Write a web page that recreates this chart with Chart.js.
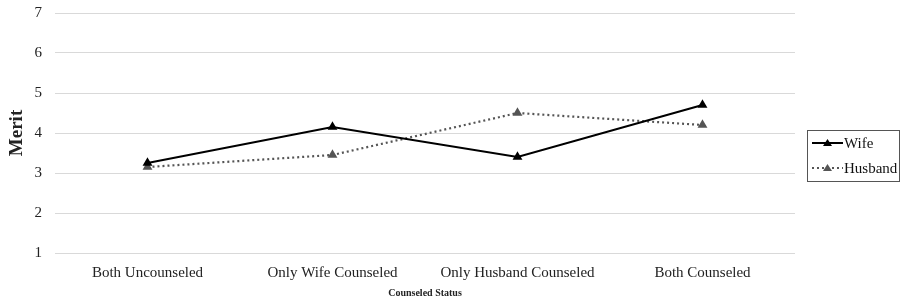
<!DOCTYPE html>
<html>
<head>
<meta charset="utf-8">
<script src="https://cdn.jsdelivr.net/npm/chart.js@4/dist/chart.umd.min.js"></script>
<style>
  html, body { margin: 0; padding: 0; background: #fff; }
  #wrap { width: 901px; height: 301px; position: relative; }
</style>
</head>
<body>
<div id="wrap"><canvas id="chart"></canvas></div>
<script>
const categories = ['Both Uncounseled', 'Only Wife Counseled', 'Only Husband Counseled', 'Both Counseled'];
const wifeValues = [3.25, 4.15, 3.4, 4.7];
const husbandValues = [3.15, 3.45, 4.5, 4.2];
const yTicks = [1, 2, 3, 4, 5, 6, 7];

const serif = "'Liberation Serif', 'Times New Roman', serif";

// legend drawn by hand: line sample with a triangle in the middle
const lineLegend = {
  id: 'lineLegend',
  afterDraw(chart) {
    const ctx = chart.ctx;
    const x0 = 807, y0 = 130, w = 92, h = 51;
    ctx.save();
    ctx.strokeStyle = '#555';
    ctx.lineWidth = 1;
    ctx.strokeRect(x0 + 0.5, y0 + 0.5, w, h);
    chart.data.datasets.forEach((ds, i) => {
      const y = y0 + 13 + i * 25;
      ctx.beginPath();
      ctx.strokeStyle = ds.borderColor;
      ctx.lineWidth = 2;
      ctx.setLineDash(ds.borderDash || []);
      ctx.moveTo(x0 + 5, y);
      ctx.lineTo(x0 + 36, y);
      ctx.stroke();
      ctx.setLineDash([]);
      ctx.beginPath();
      ctx.fillStyle = ds.pointBackgroundColor;
      ctx.moveTo(x0 + 20.5, y - 4);
      ctx.lineTo(x0 + 25, y + 3);
      ctx.lineTo(x0 + 16, y + 3);
      ctx.closePath();
      ctx.fill();
      ctx.fillStyle = '#111';
      ctx.font = '15px ' + serif;
      ctx.textBaseline = 'middle';
      ctx.fillText(ds.label, x0 + 37, y + 1);
    });
    ctx.restore();
  }
};

new Chart(document.getElementById('chart'), {
  type: 'line',
  data: {
    labels: categories,
    datasets: [
      {
        label: 'Wife',
        data: wifeValues,
        borderColor: '#000',
        backgroundColor: '#000',
        pointBackgroundColor: '#000',
        pointBorderColor: '#000',
        borderWidth: 2.2,
        pointStyle: 'triangle',
        pointRadius: 3.5,
        tension: 0
      },
      {
        label: 'Husband',
        data: husbandValues,
        borderColor: '#555',
        backgroundColor: '#555',
        pointBackgroundColor: '#555',
        pointBorderColor: '#555',
        borderWidth: 2.2,
        borderDash: [2, 3],
        pointStyle: 'triangle',
        pointRadius: 3.5,
        tension: 0
      }
    ]
  },
  options: {
    responsive: true,
    maintainAspectRatio: false,
    animation: false,
    layout: { padding: { top: 13, right: 106, left: 6, bottom: 2 } },
    plugins: {
      legend: { display: false },
      tooltip: { enabled: false }
    },
    scales: {
      x: {
        offset: true,
        grid: { display: false },
        border: { display: false },
        ticks: {
          color: '#222',
          font: { family: serif, size: 15 },
          padding: 3,
          maxRotation: 0
        },
        title: {
          display: true,
          text: 'Counseled Status',
          color: '#222',
          font: { family: serif, size: 10, weight: 'bold' },
          padding: { top: 2, bottom: 0 }
        }
      },
      y: {
        min: 1,
        max: 7,
        afterBuildTicks: (scale) => { scale.ticks = yTicks.map(v => ({ value: v })); },
        afterFit: (scale) => { scale.width = 49; scale.paddingTop = 0; scale.paddingBottom = 0; },
        grid: { color: '#d9d9d9', lineWidth: 1, drawTicks: false },
        border: { display: false },
        ticks: {
          color: '#222',
          font: { family: serif, size: 15 },
          padding: 13
        },
        title: {
          display: true,
          text: 'Merit',
          color: '#222',
          font: { family: serif, size: 19, weight: 'bold' },
          padding: { top: 0, bottom: 4 }
        }
      }
    }
  },
  plugins: [lineLegend]
});
</script>
</body>
</html>
